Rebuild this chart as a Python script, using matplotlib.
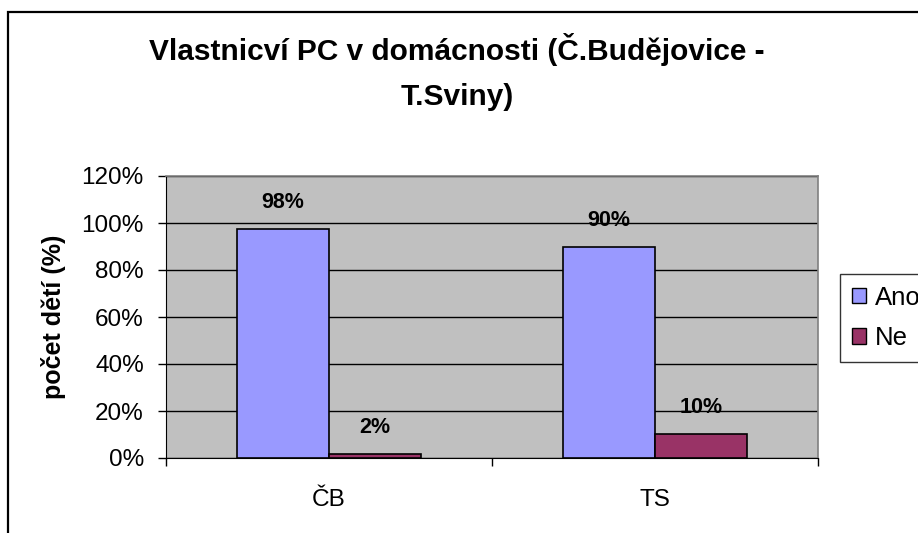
import matplotlib
matplotlib.use("Agg")
import matplotlib.pyplot as plt
from matplotlib.patches import Rectangle, Patch
import numpy as np

categories = ["ČB", "TS"]
series_names = ["Ano", "Ne"]
ano_values = [97.6, 89.8]
ne_values = [1.7, 10.2]
ano_labels = ["98%", "90%"]
ne_labels = ["2%", "10%"]
yticks = [0, 20, 40, 60, 80, 100, 120]
ytick_labels = ["0%", "20%", "40%", "60%", "80%", "100%", "120%"]

plt.rcParams['font.family'] = ['Liberation Sans', 'DejaVu Sans']

W, H = 918, 533
fig = plt.figure(figsize=(W / 100, H / 100), dpi=100)

# outer chart border
fig.patches.append(Rectangle((8 / W, -0.1), 1.2, (H - 12) / H + 0.1,
                             transform=fig.transFigure, fill=False,
                             edgecolor='black', linewidth=1.6, zorder=0))

L, R, T, B = 166, 818, 176, 458
ax = fig.add_axes([L / W, (H - B) / H, (R - L) / W, (B - T) / H])
ax.set_facecolor('#C0C0C0')

x = np.arange(len(categories))
bw = 0.282
ax.bar(x - bw / 2, ano_values, bw, color='#9999FF', edgecolor='black', linewidth=1.2, zorder=3)
ax.bar(x + bw / 2, ne_values, bw, color='#993366', edgecolor='black', linewidth=1.2, zorder=3)

for i in range(len(categories)):
    ax.annotate(ano_labels[i], (x[i] - bw / 2, ano_values[i]), xytext=(0, 19),
                textcoords='offset points', ha='center', va='center',
                fontsize=15.5, fontweight='bold', zorder=5)
    ax.annotate(ne_labels[i], (x[i] + bw / 2, ne_values[i]), xytext=(0, 19),
                textcoords='offset points', ha='center', va='center',
                fontsize=15.5, fontweight='bold', zorder=5)

ax.set_xlim(-0.5, len(categories) - 0.5)
ax.set_ylim(0, 120)
ax.set_yticks(yticks)
ax.set_yticklabels(ytick_labels, fontsize=17.5)
ax.yaxis.grid(True, color='black', linewidth=1.0, zorder=1)
ax.set_axisbelow(True)

ax.set_xticks(x)
ax.set_xticklabels(categories, fontsize=17.5)
ax.tick_params(axis='x', length=0, pad=22)
ax.set_xticks([-0.5, 0.5, 1.5], minor=True)
ax.tick_params(axis='x', which='minor', length=6, width=1.0, color='black', direction='out')
ax.tick_params(axis='y', length=6, width=1.0, color='black', direction='out', pad=10)

for s in ['top', 'right']:
    ax.spines[s].set_color('#808080')
    ax.spines[s].set_linewidth(1.2)
ax.spines['left'].set_color('black')
ax.spines['bottom'].set_color('black')

ax.set_ylabel("počet dětí (%)", fontsize=18, fontweight='bold', labelpad=11)

fig.text(457 / W, 1 - 50 / H, "Vlastnicví PC v domácnosti (Č.Budějovice -",
         ha='center', va='center', fontsize=21.5, fontweight='bold')
fig.text(457 / W, 1 - 97 / H, "T.Sviny)", ha='center', va='center',
         fontsize=21.5, fontweight='bold')

handles = [Patch(facecolor='#9999FF', edgecolor='black'),
           Patch(facecolor='#993366', edgecolor='black')]
leg = fig.legend(handles, series_names, loc='upper left',
                 bbox_to_anchor=(840 / W, 1 - 274 / H), fontsize=18.5,
                 frameon=True, fancybox=False, edgecolor='black',
                 handlelength=0.55, handleheight=0.55, handletextpad=0.35,
                 borderpad=0.45, labelspacing=0.65, borderaxespad=0)
leg.get_frame().set_linewidth(1.0)

fig.savefig("out.png", dpi=100)
